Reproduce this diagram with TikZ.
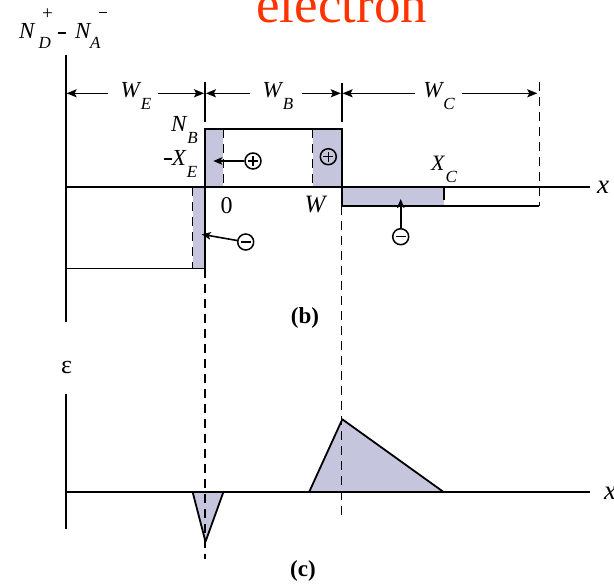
\documentclass[tikz,border=0pt]{standalone}
\usepackage{fontspec}
\setmainfont{Liberation Serif}
\usetikzlibrary{arrows.meta}
\definecolor{shadecol}{RGB}{197,197,222}
\definecolor{eleccol}{RGB}{255,50,0}
\newcommand\fs[1]{\fontsize{#1}{#1}\selectfont}
% main letter with lowered italic subscript
\newcommand\lsub[2]{{\itshape #1}\hspace{1pt}\raisebox{-12pt}{\fs{17}\itshape #2}}
\tikzset{
  curve/.style={line width=1.8pt},
  dline/.style={line width=1.5pt,dash pattern=on 9pt off 6pt},
  shadefill/.style={fill=shadecol},
  arr/.style={line width=1.6pt,-{Stealth[length=10pt,width=8pt,inset=2pt]}},
  charge/.style={circle,draw,line width=1.5pt,minimum size=16pt,inner sep=0pt},
  lbl/.style={inner sep=0pt,font=\fs{23}},
  sublbl/.style={inner sep=0pt,font=\fs{17}},
}
\begin{document}
\begin{tikzpicture}[x=1pt,y=-1pt]
\useasboundingbox (0,0) rectangle (614,587);
% title
\node[inner sep=0pt,anchor=base,text=eleccol,font=\fs{53}] (title) at (341.7,22.7) {electron};
% ---------- (b) ----------
\fill[shadefill] (192.7,187.3) rectangle (205,268.5);
\fill[shadefill] (205,129.3) rectangle (223.3,187.3);
\fill[shadefill] (312.7,129.3) rectangle (341.7,187.3);
\fill[shadefill] (341.7,187.3) rectangle (444.3,206);
\draw[curve] (65.7,55) -- (65.7,321.7);
\draw[curve] (65.7,187.3) -- (590,187.3);
\draw[curve,line join=miter] (65.7,268.5) -- (205,268.5) -- (205,129.3) -- (341.7,129.3) -- (341.7,206) -- (539.3,206);
\draw[curve] (444.3,187.3) -- (444.3,200);
\draw[dline] (192.7,187.3) -- (192.7,268.5);
\draw[dline] (223.3,129.3) -- (223.3,187.3);
\draw[dline] (312.7,129.3) -- (312.7,187.3);
\draw[dline] (539.3,82) -- (539.3,206);
% dimension ticks and arrows
\draw[curve] (205,82) -- (205,122);
\draw[curve] (341.7,83) -- (341.7,122);
\node[lbl,anchor=base] (we) at (136,97) {\lsub{W}{E}};
\node[lbl,anchor=base] (wb) at (278,97) {\lsub{W}{B}};
\node[lbl,anchor=base] (wc) at (439,97) {\lsub{W}{C}};
\coordinate (d0) at (65.7,93.3);
\coordinate (d1) at (205,93.3);
\coordinate (d2) at (341.7,93.3);
\coordinate (d3) at (539.3,93.3);
\draw[arr] (108,93.3) -- ([xshift=0.9pt]d0);
\draw[arr] (158,93.3) -- ([xshift=-0.9pt]d1);
\draw[arr] (250,93.3) -- ([xshift=0.9pt]d1);
\draw[arr] (302,93.3) -- ([xshift=-0.9pt]d2);
\draw[arr] (415,93.3) -- ([xshift=0.9pt]d2);
\draw[arr] (462,93.3) -- ([xshift=-2pt]d3);
% axis label N_D^+ - N_A^-
\node[lbl,anchor=base west] (nd) at (19,38) {\itshape N};
\node[sublbl,anchor=base west] (ndsub) at (38.5,48) {\itshape D};
\node[sublbl,font=\fs{19},anchor=center] (ndsup) at (47.5,14.5) {+};
\coordinate (mn1) at (58,33);
\coordinate (mn2) at (65.5,33);
\draw[line width=1.5pt] (mn1) -- (mn2);
\node[lbl,anchor=base west] (na) at (75,38) {\itshape N};
\node[sublbl,anchor=base west] (nasub) at (90,48) {\itshape A};
\coordinate (ms1) at (98.5,12.7);
\coordinate (ms2) at (106.5,12.7);
\draw[line width=1.5pt] (ms1) -- (ms2);
% other labels
\node[lbl,anchor=base east] (nb) at (198,131.7) {\lsub{N}{B}};
\node[lbl,anchor=base east] (xe) at (197.5,165) {\raisebox{5.5pt}{\rule{8pt}{1.4pt}}\lsub{X}{E}};
\node[lbl,font=\fs{24},anchor=base] (zero) at (226.7,213.3) {0};
\node[lbl,font=\fs{25},anchor=base] (wlab) at (315,212) {\itshape W};
\node[lbl,font=\fs{22},anchor=base] (xc) at (444,170) {\lsub{X}{C}};
\node[lbl,font=\fs{27},anchor=base west] (xb) at (597,193) {\itshape x};
\node[lbl,font=\bfseries\fs{23},anchor=center] (blab) at (305,318.3) {(b)};
% charges
\node[charge] (p1) at (253,161) {};
\node[charge] (p2) at (328.3,156.7) {};
\node[charge] (m1) at (245.7,242) {};
\node[charge] (m2) at (400.7,236.7) {};
\foreach \n in {p1,p2} {
  \draw[line width=1.4pt] ([xshift=-5pt]\n.center) -- ([xshift=5pt]\n.center);
  \draw[line width=1.4pt] ([yshift=-5pt]\n.center) -- ([yshift=5pt]\n.center);
}
\foreach \n in {m1,m2} {
  \draw[line width=1.4pt] ([xshift=-5pt]\n.center) -- ([xshift=5pt]\n.center);
}
\coordinate (t1) at (213.3,161);
\coordinate (t2) at (201.7,234.3);
\coordinate (t3) at (400.7,199);
\draw[arr,-{Stealth[length=9pt,width=7.5pt,inset=2pt]}] (p1) -- (t1);
\draw[arr,-{Stealth[length=9pt,width=7.5pt,inset=2pt]}] (m1) -- (t2);
\draw[arr,-{Stealth[length=9pt,width=7.5pt,inset=2pt]}] (m2) -- (t3);
% ---------- (c) ----------
\fill[shadefill] (192.7,492.3) -- (205.5,541.7) -- (223.3,492.3) -- cycle;
\fill[shadefill] (309,492.3) -- (342.3,419.3) -- (444,492.3) -- cycle;
\draw[dline] (205,268.5) -- (205,559);
\draw[dline] (341.7,206) -- (341.7,515);
\draw[curve] (65.7,394) -- (65.7,529.3);
\draw[curve] (65.7,492.3) -- (590,492.3);
\draw[curve,line join=round] (192.7,492.3) -- (205.5,541.7) -- (223.3,492.3);
\draw[curve,line join=round] (309,492.3) -- (342.3,419.3) -- (444,492.3);
\node[lbl,font=\fs{26},anchor=center] (eps) at (66.7,367) {ε};
\node[lbl,font=\fs{27},anchor=base west] (xcax) at (604,499) {\itshape x};
\node[lbl,font=\bfseries\fs{23},anchor=center] (clab) at (303,571) {(c)};
\end{tikzpicture}
\end{document}
